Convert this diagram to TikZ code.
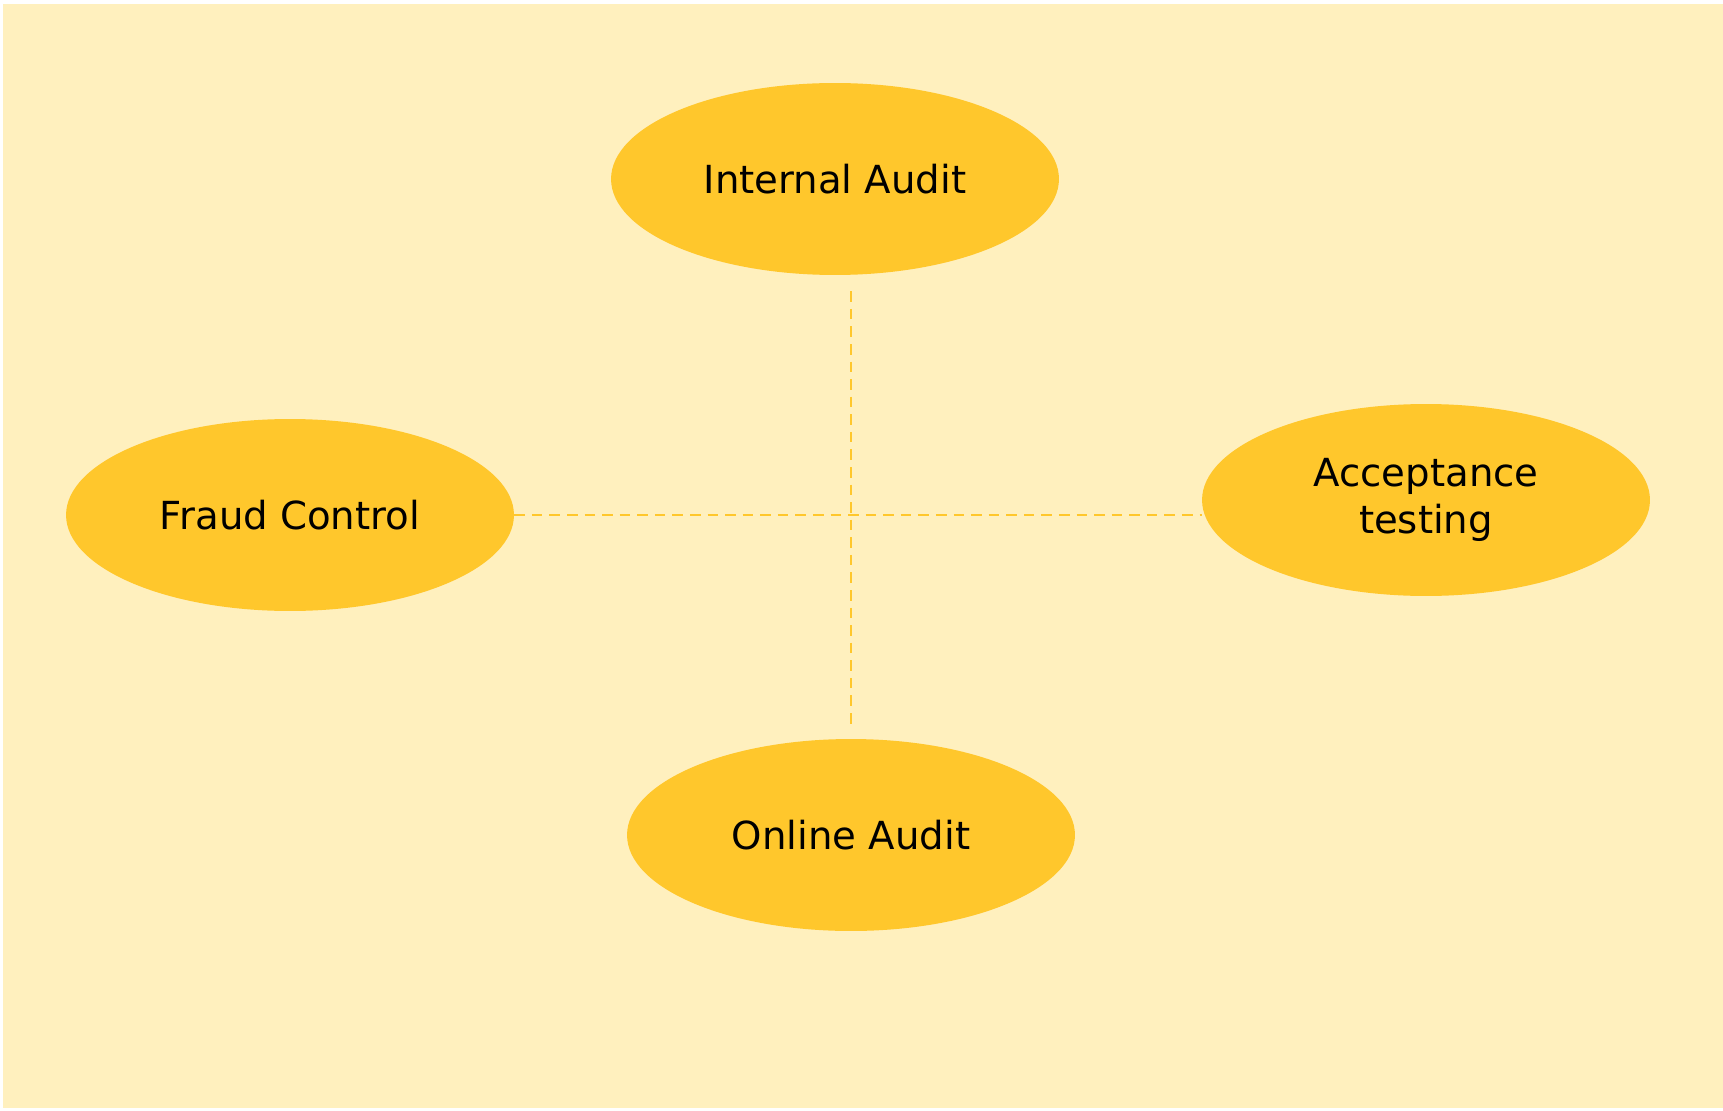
\documentclass[tikz,border=0pt]{standalone}
\usepackage{fontspec}
\setmainfont{DejaVu Sans}
\usepackage{tikz}
\usetikzlibrary{shapes.geometric,calc}
\definecolor{paper}{HTML}{FFF0BE}
\definecolor{gold}{HTML}{FFC72C}
\tikzset{bubble/.style={ellipse, fill=gold, draw=none, minimum width=8.96cm, minimum height=3.84cm, align=center, font=\fontsize{22}{26.5}\selectfont},
	link/.style={draw=gold, line width=1.5pt, dash pattern=on 6pt off 4pt}}

\begin{document}
\begin{tikzpicture}[x=0.02cm,y=-0.02cm]
	\useasboundingbox (0,0) rectangle (1723,1111);
	\fill[paper] (3,4) rectangle (1723,1108);
	\node[bubble] (internal) at (835,179) {Internal Audit};
	\node[bubble] (fraud) at (290,515) {Fraud Control};
	\node[bubble] (accept) at (1426,500) {Acceptance\\testing};
	\node[bubble] (online) at (851,835) {Online Audit};
	\draw[link] (fraud.east) -- (fraud.east -| accept.west);
	\draw[link,shorten <=3.2mm,shorten >=2.8mm] (internal.south -| online.north) -- (online.north);
\end{tikzpicture}
\end{document}
